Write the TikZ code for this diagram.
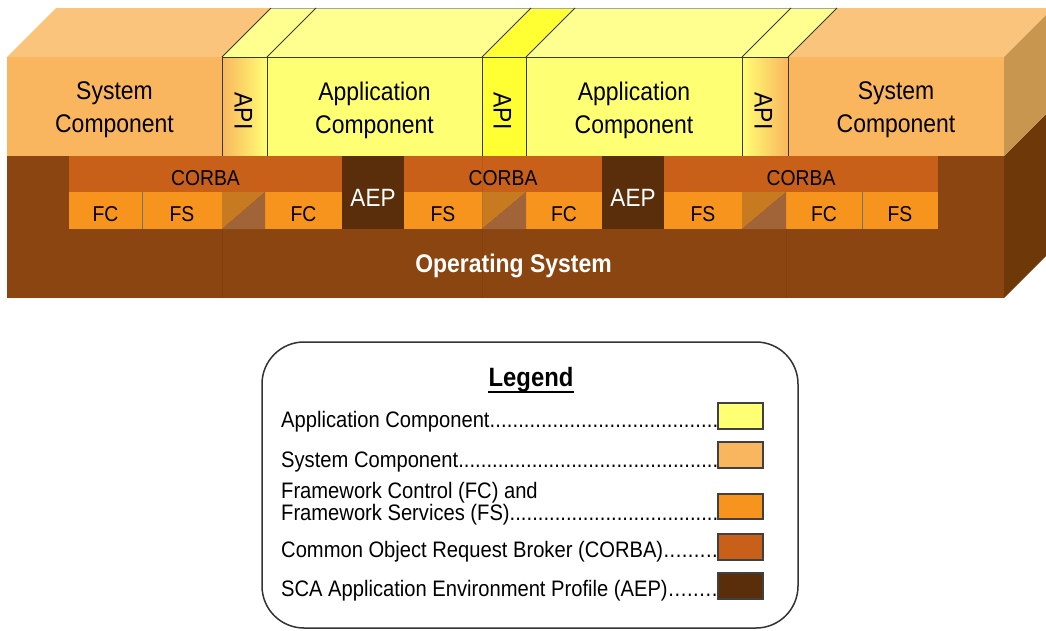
\documentclass[tikz,border=0pt]{standalone}
\usepackage{fontspec}
\setmainfont{Liberation Sans}

\definecolor{sysfront}{HTML}{F9B65E}
\definecolor{systop}{HTML}{FAC47C}
\definecolor{sysside}{HTML}{C8964E}
\definecolor{appfront}{HTML}{FFFF74}
\definecolor{apptop}{HTML}{FFFF90}
\definecolor{apibright}{HTML}{FFFF33}
\definecolor{osfront}{HTML}{8A4510}
\definecolor{osside}{HTML}{6E3808}
\definecolor{corba}{HTML}{C8601A}
\definecolor{fw}{HTML}{F7941E}
\definecolor{aep}{HTML}{5A2E0A}
\definecolor{splitlight}{HTML}{C87A20}
\definecolor{splitdark}{HTML}{A06438}
\definecolor{edge}{HTML}{3A3A1E}

% narrow lettering: squeeze text horizontally
\newcommand\cnd[1]{\scalebox{0.9}[1]{#1}}
% dotted leader line for legend entries, ending at the swatch
\newcommand\lgline[1]{\cnd{\hbox to 485.5pt{#1\xleaders\hbox{.}\hfill}}}

\tikzset{
  edgeline/.style={draw=edge, line width=0.9pt},
  seam/.style={draw=black, opacity=0.07, line width=0.8pt},
  comp/.style={font=\fontsize{25.5pt}{33pt}\selectfont, align=center, inner sep=0pt},
  apilbl/.style={font=\fontsize{25.5pt}{30pt}\selectfont, inner sep=0pt, rotate=-90},
  midlbl/.style={font=\fontsize{21.5pt}{26pt}\selectfont, inner sep=0pt, anchor=base},
  aeplbl/.style={font=\fontsize{25pt}{30pt}\selectfont, inner sep=0pt, anchor=base, text=white},
  oslbl/.style={font=\fontsize{25.5pt}{30pt}\selectfont\bfseries, inner sep=0pt, anchor=base, text=white},
  legtext/.style={font=\fontsize{22.4pt}{26pt}\selectfont, inner sep=0pt, anchor=base west},
  swatch/.style={draw=black!75, line width=1.4pt},
}

\begin{document}
\begin{tikzpicture}[x=1pt,y=-1pt]
\useasboundingbox (0,0) rectangle (1046,630);
\clip (0,0) rectangle (1046,630);

% ---------- operating system slab ----------
\fill[osfront] (7,156) rectangle (1004,298);
\fill[osside] (1004,156) -- (1053,107) -- (1053,249) -- (1004,298) -- cycle;

% ---------- system component blocks ----------
\fill[sysfront] (7,57) rectangle (222,156);
\fill[systop] (7,57) -- (56,8) -- (271,8) -- (222,57) -- cycle;
\fill[sysfront] (788,57) rectangle (1004,156);
\fill[systop] (788,57) -- (837,8) -- (1053,8) -- (1004,57) -- cycle;
\fill[sysside] (1004,57) -- (1053,8) -- (1053,107) -- (1004,156) -- cycle;

% ---------- application layer ----------
\fill[apptop] (222,57) -- (271,8) -- (837,8) -- (788,57) -- cycle;
\fill[apibright] (482,57) -- (531,8) -- (575,8) -- (526,57) -- cycle;
\shade[left color=sysfront, right color=appfront] (222,57) rectangle (267,156);
\fill[appfront] (267,57) rectangle (482,156);
\fill[apibright] (482,57) rectangle (526,156);
\fill[appfront] (526,57) rectangle (742,156);
\shade[left color=appfront, right color=sysfront] (742,57) rectangle (788,156);

\draw[black!35, line width=0.8pt] (271,8) -- (837,8);
\draw[edgeline] (222,57) rectangle (788,156);
\foreach \x in {267,482,526,742}
  \draw[edgeline] (\x,57) -- (\x,156);
\foreach \x in {222,267,482,526,742,788}
  \draw[edgeline] (\x,57) -- ++(49,-49);

% ---------- middleware band ----------
\fill[corba] (69,156) rectangle (342,192);
\fill[corba] (404,156) rectangle (602,192);
\fill[corba] (664,156) rectangle (938,192);
\fill[aep] (342,156) rectangle (404,229);
\fill[aep] (602,156) rectangle (664,229);

\fill[fw] (69,192) rectangle (222,229);
\fill[fw] (265,192) rectangle (342,229);
\fill[fw] (404,192) rectangle (482,229);
\fill[fw] (526,192) rectangle (602,229);
\fill[fw] (664,192) rectangle (742,229);
\fill[fw] (786,192) rectangle (938,229);
\draw[black!55, line width=0.7pt] (142,192) -- (142,229);
\draw[black!55, line width=0.7pt] (862,192) -- (862,229);

% split cells between framework boxes
\foreach \a/\b in {222/265,482/526,742/786} {
  \fill[splitlight] (\a,192) -- (\b,192) -- (\a,229) -- cycle;
  \fill[splitdark] (\b,192) -- (\b,229) -- (\a,229) -- cycle;
}

% faint seams running down the slab
\draw[seam] (222,229) -- (222,298);
\draw[seam] (482,156) -- (482,298);
\draw[seam] (786,229) -- (786,298);

% ---------- labels ----------
\node[comp] (sysL) at (114.5,110) {\cnd{System}\\\cnd{Component}};
\node[comp] (sysR) at (896,110) {\cnd{System}\\\cnd{Component}};
\node[comp] (app1) at (374.5,110) {\cnd{Application}\\\cnd{Component}};
\node[comp] (app2) at (634,110) {\cnd{Application}\\\cnd{Component}};
\node[apilbl] (api1) at (243.5,111) {\cnd{API}};
\node[apilbl] (api2) at (502.5,111) {\cnd{API}};
\node[apilbl] (api3) at (763.5,111) {\cnd{API}};

\node[midlbl] (corba1) at (205.5,185) {\cnd{CORBA}};
\node[midlbl] (corba2) at (503,185) {\cnd{CORBA}};
\node[midlbl] (corba3) at (801,185) {\cnd{CORBA}};
\node[aeplbl] (aep1) at (373,206) {\cnd{AEP}};
\node[aeplbl] (aep2) at (633,206) {\cnd{AEP}};

\node[midlbl] (fc1) at (105.5,221) {\cnd{FC}};
\node[midlbl] (fs1) at (182,221) {\cnd{FS}};
\node[midlbl] (fc2) at (303.5,221) {\cnd{FC}};
\node[midlbl] (fs2) at (443,221) {\cnd{FS}};
\node[midlbl] (fc3) at (564,221) {\cnd{FC}};
\node[midlbl] (fs3) at (703,221) {\cnd{FS}};
\node[midlbl] (fc4) at (824,221) {\cnd{FC}};
\node[midlbl] (fs4) at (900,221) {\cnd{FS}};

\node[oslbl] (os) at (513.5,272) {\cnd{Operating System}};

% ---------- legend ----------
\draw[draw=black!80, line width=1.5pt, rounded corners=42pt, fill=white]
  (262,342) rectangle (798,628);
\node[font=\fontsize{26.5pt}{30pt}\selectfont\bfseries, inner sep=0pt, anchor=base]
  (legtitle) at (531,386) {\cnd{Legend}};
\draw[line width=2pt] ([yshift=-6pt]legtitle.base west) -- ([yshift=-6pt]legtitle.base east);

\node[legtext] (lg1) at (281,427) {\lgline{Application Component}};
\node[legtext] (lg2) at (281,467) {\lgline{System Component}};
\node[legtext] (lg3a) at (281,498) {\cnd{Framework Control (FC) and}};
\node[legtext] (lg3b) at (281,520) {\lgline{Framework Services (FS)}};
\node[legtext] (lg4) at (281,557) {\lgline{Common Object Request Broker (CORBA)}};
\node[legtext] (lg5) at (281,596) {\lgline{SCA Application Environment Profile (AEP)}};

\draw[swatch, fill=appfront] (718,403) rectangle (763,429);
\draw[swatch, fill=sysfront] (718,442) rectangle (763,468);
\draw[swatch, fill=fw] (718,494) rectangle (763,519);
\draw[swatch, fill=corba] (718,534) rectangle (763,560);
\draw[swatch, fill=aep] (718,573) rectangle (763,599);
\end{tikzpicture}
\end{document}
